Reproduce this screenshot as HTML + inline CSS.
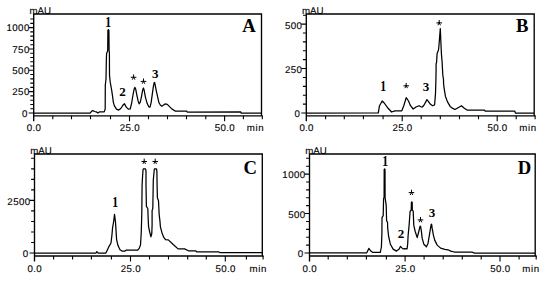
<!DOCTYPE html>
<html><head><meta charset="utf-8"><style>
html,body{margin:0;padding:0;background:#fff;}
svg{display:block;}
.ax{font-family:"Liberation Sans",sans-serif;font-size:9.7px;text-rendering:geometricPrecision;fill:#000;stroke:#000;stroke-width:0.12px;}
.let{font-family:"Liberation Serif",serif;font-size:18.7px;font-weight:bold;fill:#000;}
.num{font-family:"Liberation Serif",serif;font-size:13px;font-weight:bold;fill:#000;}
</style></head><body>
<svg width="550" height="281" viewBox="0 0 550 281">
<rect width="550" height="281" fill="#fff"/>
<path d="M33.7 121.3V14H261.5V115.8" fill="none" stroke="#000" stroke-width="1.35"/>
<path d="M33.7 115.8H262.8" fill="none" stroke="#000" stroke-width="1.35"/>
<path d="M52.8 115.8v3.5M71.5 115.8v3.5M90.5 115.8v3.5M110.5 115.8v3.5M129.5 115.8v5.5M148.5 115.8v3.5M167.5 115.8v3.5M186.5 115.8v3.5M205.8 115.8v3.5M224.6 115.8v5.5M243.4 115.8v3.5M262.3 115.8v3.5" stroke="#000" stroke-width="1.1"/>
<text x="34" y="131.4" text-anchor="middle" letter-spacing="0.3" class="ax">0.0</text>
<text x="129.8" y="131.4" text-anchor="middle" letter-spacing="0.3" class="ax">25.0</text>
<text x="224.9" y="131.4" text-anchor="middle" letter-spacing="0.3" class="ax">50.0</text>
<text x="246.8" y="131.4" text-anchor="start" letter-spacing="0.65" class="ax">min</text>
<path d="M28.7 113H33.7M30.3 108.73H33.7M30.3 104.46H33.7M30.3 100.19H33.7M30.3 95.92H33.7M28.7 91.65H33.7M30.3 87.38H33.7M30.3 83.11H33.7M30.3 78.84H33.7M30.3 74.57H33.7M28.7 70.3H33.7M30.3 66.03H33.7M30.3 61.76H33.7M30.3 57.49H33.7M30.3 53.22H33.7M28.7 48.95H33.7M30.3 44.68H33.7M30.3 40.41H33.7M30.3 36.14H33.7M30.3 31.87H33.7M28.7 27.6H33.7M30.3 23.33H33.7M30.3 19.06H33.7" stroke="#000" stroke-width="1.1"/>
<text x="27.7" y="117.4" text-anchor="end" letter-spacing="0.4" class="ax">0</text>
<text x="29.7" y="95.25" text-anchor="end" letter-spacing="0.4" class="ax">250</text>
<text x="29.7" y="73.9" text-anchor="end" letter-spacing="0.4" class="ax">500</text>
<text x="29.7" y="52.55" text-anchor="end" letter-spacing="0.4" class="ax">750</text>
<text x="29.7" y="31.2" text-anchor="end" letter-spacing="0.4" class="ax">1000</text>
<text x="29.4" y="13.7" text-anchor="start" letter-spacing="0" class="ax">mAU</text>
<text x="242.3" y="32.1" class="let">A</text>
<path d="M33.7 113 90.1 113.1 92 110.8 92.7 110.7 94.6 111.5 96.2 111.8 97.8 113.1 99.4 111.9 104.2 111.9 105.2 109 105.3 85 106 79 106.4 58 106.6 53.5 107.7 50.8 107.9 30.2 108.4 29.7 108.9 30.2 109.1 50.8 109.4 52.5 109.5 75 110.2 82 111.7 90.4 112.8 97.9 113.3 102.1 114.4 105.9 116.5 109.1 118.7 110.1 120.8 108.5 122.9 105.3 124.5 103.7 126.1 106.9 128.3 109.1 130.2 109 131.7 102.8 132.8 96 134 89.7 134.8 87.4 135.7 89.1 136.8 94.8 138 100.5 139.1 103.9 140.3 102.2 141.4 97.1 142.5 90.8 143.4 88 144.2 90.3 145.4 97.1 147.1 103.3 148.8 106.8 149.9 107.3 151.1 102.8 152.2 94.8 153.3 86.8 154.1 82.8 154.6 82.5 155.1 84.6 156.2 90.3 157.9 98.2 159 102.8 160.3 105 161.8 106.2 165 103.9 167.3 104.4 171.8 108.9 175.5 111.2 186.8 111.2 187.2 112 240.8 111.9 241.2 113.2 261.5 113.2" fill="none" stroke="#000" stroke-width="1.25" stroke-linejoin="round"/>
<text transform="translate(108.1 26.8) scale(0.8 1)" text-anchor="middle" class="num" style="font-size:14.6px">1</text>
<text x="122.4" y="96.4" text-anchor="middle" class="num">2</text>
<text x="155.2" y="78" text-anchor="middle" class="num">3</text>
<path d="M133.6 77.2L133.6 74.8M133.6 77.2L136 77.33M133.6 77.2L131.2 77.33M133.6 77.2L134.73 79.32M133.6 77.2L132.47 79.32" stroke="#000" stroke-width="1.0" stroke-linecap="round" fill="none"/>
<path d="M143.5 81.3L143.5 78.9M143.5 81.3L145.9 81.43M143.5 81.3L141.1 81.43M143.5 81.3L144.63 83.42M143.5 81.3L142.37 83.42" stroke="#000" stroke-width="1.0" stroke-linecap="round" fill="none"/>
<path d="M306.3 121.3V14H534.2V115.8" fill="none" stroke="#000" stroke-width="1.35"/>
<path d="M306.3 115.8H535.6" fill="none" stroke="#000" stroke-width="1.35"/>
<path d="M325.6 115.8v3.5M344.3 115.8v3.5M363.4 115.8v3.5M383.1 115.8v3.5M402.2 115.8v5.5M421.2 115.8v3.5M440.3 115.8v3.5M459.5 115.8v3.5M478.5 115.8v3.5M497.2 115.8v5.5M516.2 115.8v3.5M535.1 115.8v3.5" stroke="#000" stroke-width="1.1"/>
<text x="306.6" y="131.4" text-anchor="middle" letter-spacing="0.3" class="ax">0.0</text>
<text x="402.5" y="131.4" text-anchor="middle" letter-spacing="0.3" class="ax">25.0</text>
<text x="497.5" y="131.4" text-anchor="middle" letter-spacing="0.3" class="ax">50.0</text>
<text x="519.3" y="131.4" text-anchor="start" letter-spacing="0.65" class="ax">min</text>
<path d="M301.3 113H306.3M302.9 104.11H306.3M302.9 95.22H306.3M302.9 86.33H306.3M302.9 77.44H306.3M301.3 68.55H306.3M302.9 59.66H306.3M302.9 50.77H306.3M302.9 41.88H306.3M302.9 32.99H306.3M301.3 24.1H306.3M302.9 15.21H306.3" stroke="#000" stroke-width="1.1"/>
<text x="300.3" y="117.4" text-anchor="end" letter-spacing="0.4" class="ax">0</text>
<text x="302.3" y="72.95" text-anchor="end" letter-spacing="0.4" class="ax">250</text>
<text x="302.3" y="28.5" text-anchor="end" letter-spacing="0.4" class="ax">500</text>
<text x="302" y="13.7" text-anchor="start" letter-spacing="0" class="ax">mAU</text>
<text x="515.9" y="32.1" class="let">B</text>
<path d="M306.3 113 378.3 112.8 379.5 105.7 382.2 101 384.2 103 387.6 107.7 391.6 112 395 110.8 401.8 110.8 403.8 105.7 406.2 97.6 408.5 101 410.5 105.7 413.2 109 416 107 419 105.7 421.1 106.8 422.4 107 424.5 104.3 426.9 99.6 428.5 101.6 430.5 104.3 432.6 105.7 434.6 105 435.5 93.5 435.9 80 436.1 70 436.1 64.2 436.6 62 437.1 53.5 438.5 50 439 45 440.3 28.5 441 45 441.4 53.5 442.1 62 442.8 75 443.5 79.3 443.6 84 444.1 88.1 445.4 96.2 447.4 101.6 450.1 106.4 452.8 108.4 455 109.5 458.5 107.5 461.5 105.8 464 108 467 110 484.5 110 485 111.1 514.8 111.1 515.5 113.2 534 113.2" fill="none" stroke="#000" stroke-width="1.25" stroke-linejoin="round"/>
<text transform="translate(383.1 91.1) scale(0.8 1)" text-anchor="middle" class="num" style="font-size:14.6px">1</text>
<text x="426" y="91" text-anchor="middle" class="num">3</text>
<path d="M406.2 85.7L406.2 83.3M406.2 85.7L408.6 85.83M406.2 85.7L403.8 85.83M406.2 85.7L407.33 87.82M406.2 85.7L405.07 87.82" stroke="#000" stroke-width="1.0" stroke-linecap="round" fill="none"/>
<path d="M439.2 22.8L439.2 20.4M439.2 22.8L441.6 22.93M439.2 22.8L436.8 22.93M439.2 22.8L440.33 24.92M439.2 22.8L438.07 24.92" stroke="#000" stroke-width="1.0" stroke-linecap="round" fill="none"/>
<path d="M34.5 261.5V154H262.3V256" fill="none" stroke="#000" stroke-width="1.35"/>
<path d="M34.5 256H263.6" fill="none" stroke="#000" stroke-width="1.35"/>
<path d="M53.6 256v3.5M72.6 256v3.5M91.4 256v3.5M111.4 256v3.5M130.5 256v5.5M149.5 256v3.5M168.5 256v3.5M187.7 256v3.5M206.3 256v3.5M225.3 256v5.5M246.4 256v3.5M263.1 256v3.5" stroke="#000" stroke-width="1.1"/>
<text x="34.8" y="271.6" text-anchor="middle" letter-spacing="0.3" class="ax">0.0</text>
<text x="130.8" y="271.6" text-anchor="middle" letter-spacing="0.3" class="ax">25.0</text>
<text x="225.6" y="271.6" text-anchor="middle" letter-spacing="0.3" class="ax">50.0</text>
<text x="249.5" y="271.6" text-anchor="start" letter-spacing="0.65" class="ax">min</text>
<path d="M29.5 253H34.5M31.1 242.48H34.5M31.1 231.96H34.5M31.1 221.44H34.5M31.1 210.92H34.5M29.5 200.4H34.5M31.1 189.88H34.5M31.1 179.36H34.5M31.1 168.84H34.5M31.1 158.32H34.5" stroke="#000" stroke-width="1.1"/>
<text x="28.5" y="257.4" text-anchor="end" letter-spacing="0.4" class="ax">0</text>
<text x="30.5" y="204.7" text-anchor="end" letter-spacing="0.4" class="ax">2500</text>
<text x="30.2" y="153.7" text-anchor="start" letter-spacing="0" class="ax">mAU</text>
<text x="243.4" y="174.4" class="let">C</text>
<path d="M34.5 253.1 95.9 253.2 96.8 251.6 98.2 253 105.9 253 107.8 249 109.2 246.1 111 243 111.9 235.5 112.6 227.4 113.6 222 114.5 214.4 115.5 222 116 230.1 116.6 239.6 118 245.6 120 249.7 122 251.1 125 251.1 126.4 250 137.8 250 139.2 248.4 140.5 245 141.2 233.5 141.5 224 141.8 213.5 142.1 185 142.6 175.7 143.1 169.2 143.6 168.8 145.4 168.8 145.7 169.5 146 171.4 146 185 146.4 206.4 147.8 208.5 148.2 219.2 148.6 226.8 149.6 231.5 150.9 236.9 151.8 233.5 152.1 225 152.1 210.6 152.8 208.5 153.3 180 154.3 169.2 154.7 168.8 156.5 168.8 156.9 171.4 157.1 185 157.4 197.8 158.5 200.7 159.2 215 159.9 220.6 160.4 226.8 161.8 232.2 163.5 236.9 165.5 239.6 168.3 239.9 173.2 244.5 178.1 248.9 184.6 248.9 188.4 250.8 195.5 250.8 196.6 251.8 218.4 251.8 220.1 252.6 262.3 252.6" fill="none" stroke="#000" stroke-width="1.25" stroke-linejoin="round"/>
<text transform="translate(115.2 207) scale(0.8 1)" text-anchor="middle" class="num" style="font-size:14.6px">1</text>
<path d="M144.2 161.4L144.2 159M144.2 161.4L146.6 161.53M144.2 161.4L141.8 161.53M144.2 161.4L145.33 163.52M144.2 161.4L143.07 163.52" stroke="#000" stroke-width="1.0" stroke-linecap="round" fill="none"/>
<path d="M155.2 161.4L155.2 159M155.2 161.4L157.6 161.53M155.2 161.4L152.8 161.53M155.2 161.4L156.33 163.52M155.2 161.4L154.07 163.52" stroke="#000" stroke-width="1.0" stroke-linecap="round" fill="none"/>
<path d="M309.5 261.5V154H535.2V256" fill="none" stroke="#000" stroke-width="1.35"/>
<path d="M309.5 256H536.7" fill="none" stroke="#000" stroke-width="1.35"/>
<path d="M328.2 256v3.5M347.3 256v3.5M366.4 256v3.5M386.4 256v3.5M405.1 256v5.5M424.1 256v3.5M443.2 256v3.5M462.3 256v3.5M481.2 256v3.5M500 256v5.5M519.1 256v3.5M536.2 256v3.5" stroke="#000" stroke-width="1.1"/>
<text x="309.8" y="271.6" text-anchor="middle" letter-spacing="0.3" class="ax">0.0</text>
<text x="405.4" y="271.6" text-anchor="middle" letter-spacing="0.3" class="ax">25.0</text>
<text x="500.3" y="271.6" text-anchor="middle" letter-spacing="0.3" class="ax">50.0</text>
<text x="522.3" y="271.6" text-anchor="start" letter-spacing="0.65" class="ax">min</text>
<path d="M304.5 253H309.5M306.1 245.11H309.5M306.1 237.22H309.5M306.1 229.33H309.5M306.1 221.44H309.5M304.5 213.55H309.5M306.1 205.66H309.5M306.1 197.77H309.5M306.1 189.88H309.5M306.1 181.99H309.5M304.5 174.1H309.5M306.1 166.21H309.5M306.1 158.32H309.5" stroke="#000" stroke-width="1.1"/>
<text x="303.5" y="257.4" text-anchor="end" letter-spacing="0.4" class="ax">0</text>
<text x="305.5" y="217.85" text-anchor="end" letter-spacing="0.4" class="ax">500</text>
<text x="305.5" y="178.4" text-anchor="end" letter-spacing="0.4" class="ax">1000</text>
<text x="305.2" y="153.7" text-anchor="start" letter-spacing="0" class="ax">mAU</text>
<text x="517.8" y="174.4" class="let">D</text>
<path d="M309.5 252.8 366.8 252.8 368.8 248.4 370.8 251.1 372.8 252.4 380.3 252.4 381.4 247 381.9 233.5 382 220 382 217.6 383.2 215.6 383.6 198.3 384.1 197.5 384.2 169.5 384.6 169 385 169.5 385.1 197.5 385.3 199 386.2 205.4 386.6 220.8 387.5 222 387.7 228.1 388.6 236.2 390.4 244.3 393.1 249.1 396.5 251.1 399.2 249.1 400.4 246.4 402.4 248.4 403 248.8 405.1 248.6 407.1 248.8 407.7 243.7 408.1 235.6 409.1 225.4 410.1 211.2 411.2 210.2 411.4 202.5 411.8 202 412.2 202.5 412.3 210.2 413.2 211.2 413.8 225.4 415.2 231.5 417.2 237.6 419.3 229.5 420.1 226.2 420.6 226.4 421.3 230.5 422.2 238.4 423.9 244.3 426.4 246.8 428 243.5 429.4 235.1 430.5 228.4 431.2 224.3 431.6 224.2 432.2 228.4 433.4 235.1 434.7 240.1 437.2 245.1 440.6 248.1 444.8 249.3 448 249.8 450.8 251.1 454.3 252 472 252 474.3 253.1 535.2 253.1" fill="none" stroke="#000" stroke-width="1.25" stroke-linejoin="round"/>
<text transform="translate(385.2 166) scale(0.8 1)" text-anchor="middle" class="num" style="font-size:14.6px">1</text>
<text x="401.1" y="237.6" text-anchor="middle" class="num">2</text>
<text x="432.1" y="216.5" text-anchor="middle" class="num">3</text>
<path d="M411.5 192.5L411.5 190.1M411.5 192.5L413.9 192.63M411.5 192.5L409.1 192.63M411.5 192.5L412.63 194.62M411.5 192.5L410.37 194.62" stroke="#000" stroke-width="1.0" stroke-linecap="round" fill="none"/>
<path d="M420.5 219.8L420.5 217.4M420.5 219.8L422.9 219.93M420.5 219.8L418.1 219.93M420.5 219.8L421.63 221.92M420.5 219.8L419.37 221.92" stroke="#000" stroke-width="1.0" stroke-linecap="round" fill="none"/>
</svg>
</body></html>
